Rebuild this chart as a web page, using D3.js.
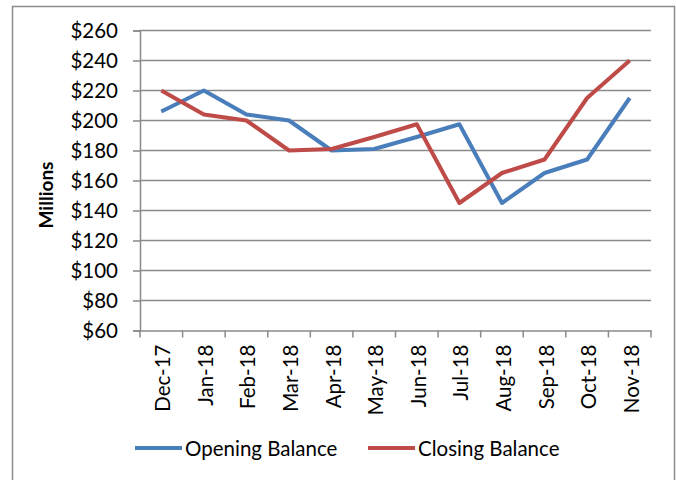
<!DOCTYPE html>
<html>
<head>
<meta charset="utf-8">
<script src="https://cdn.jsdelivr.net/npm/d3@7"></script>
<style>
  body { margin: 0; background: #fff; }
  svg text { font-family: Lato, "Open Sans", sans-serif; fill: #000; }
</style>
</head>
<body>
<svg id="chart" width="676" height="480"></svg>
<script>
// data
const months = ["Dec-17", "Jan-18", "Feb-18", "Mar-18", "Apr-18", "May-18",
                "Jun-18", "Jul-18", "Aug-18", "Sep-18", "Oct-18", "Nov-18"];
const opening = [206, 220, 204, 200, 180, 181, 189, 197.5, 145, 165, 174, 215];
const closing = [220, 204, 200, 180, 181, 189, 197.5, 145, 165, 174, 215, 240];
const yTicks = [60, 80, 100, 120, 140, 160, 180, 200, 220, 240, 260];
const seriesNames = ["Opening Balance", "Closing Balance"];
const colors = ["#4a7ebb", "#be4b48"];

const svg = d3.select("#chart");
const fontSize = "20.5px";

// outer frame
svg.append("rect")
    .attr("x", 12.5).attr("y", 6.5)
    .attr("width", 662).attr("height", 500)
    .attr("fill", "none")
    .attr("stroke", "#8c8c8c")
    .attr("stroke-width", 1.5);

const plotLeft = 140, plotRight = 651, plotTop = 30.5, plotBottom = 330.5;

const x = d3.scaleBand().domain(months).range([plotLeft, plotRight]).padding(0);
const y = d3.scaleLinear().domain([60, 260]).range([plotBottom, plotTop]);

// gridlines
svg.append("g")
    .selectAll("line")
    .data(yTicks.filter(d => d > 60))
    .enter()
    .append("line")
    .attr("x1", plotLeft).attr("x2", plotRight)
    .attr("y1", d => y(d)).attr("y2", d => y(d))
    .style("stroke", "#8a8a8a")
    .style("stroke-width", 1.5);

// y axis
const yAxis = svg.append("g")
    .attr("transform", `translate(${plotLeft},0)`)
    .call(d3.axisLeft(y).tickValues(yTicks).tickSize(7).tickPadding(15)
        .tickFormat(d => "$" + d));
yAxis.select(".domain").attr("stroke", "#8a8a8a").attr("stroke-width", 1.5);
yAxis.selectAll(".tick line").attr("stroke", "#8a8a8a").attr("stroke-width", 1.5);
yAxis.selectAll("text").style("font-size", fontSize).attr("dy", "0.36em");

// x axis
const xAxis = svg.append("g")
    .attr("transform", `translate(0,${plotBottom})`)
    .call(d3.axisBottom(x).tickSize(0).tickFormat(""));
xAxis.select(".domain").attr("stroke", "#8a8a8a").attr("stroke-width", 1.5);

// x tick marks at category boundaries
svg.append("g")
    .selectAll("line")
    .data(months.concat(["end"]))
    .enter()
    .append("line")
    .attr("x1", (d, i) => plotLeft + i * x.bandwidth())
    .attr("x2", (d, i) => plotLeft + i * x.bandwidth())
    .attr("y1", plotBottom).attr("y2", plotBottom + 7)
    .style("stroke", "#8a8a8a")
    .style("stroke-width", 1.5);

// x labels, rotated
svg.append("g")
    .selectAll("text")
    .data(months)
    .enter()
    .append("text")
    .attr("transform", d => `translate(${x(d) + x.bandwidth() / 2 + 1},${plotBottom + 14}) rotate(-90)`)
    .attr("text-anchor", "end")
    .attr("dominant-baseline", "central")
    .style("font-size", fontSize)
    .text(d => d);

// axis title
svg.append("text")
    .attr("transform", "translate(45,195) rotate(-90)")
    .attr("text-anchor", "middle")
    .attr("dominant-baseline", "central")
    .style("font-size", "19px")
    .style("font-weight", "bold")
    .text("Millions");

// lines
const line = d3.line()
    .x((d, i) => x(months[i]) + x.bandwidth() / 2)
    .y(d => y(d));

[opening, closing].forEach(function (vals, k) {
    svg.append("path")
        .datum(vals)
        .attr("d", line)
        .attr("fill", "none")
        .attr("stroke", colors[k])
        .attr("stroke-width", 4)
        .attr("stroke-linejoin", "round");
});

// legend
const legendX = [135, 368];
const legend = svg.append("g")
    .selectAll("g")
    .data(seriesNames)
    .enter()
    .append("g")
    .attr("transform", (d, i) => `translate(${legendX[i]},448)`);
legend.append("line")
    .attr("x1", 0).attr("x2", 47)
    .attr("y1", 0).attr("y2", 0)
    .attr("stroke", (d, i) => colors[i])
    .attr("stroke-width", 4);
legend.append("text")
    .attr("x", 50)
    .attr("dominant-baseline", "central")
    .style("font-size", fontSize)
    .text(d => d);
</script>
</body>
</html>
